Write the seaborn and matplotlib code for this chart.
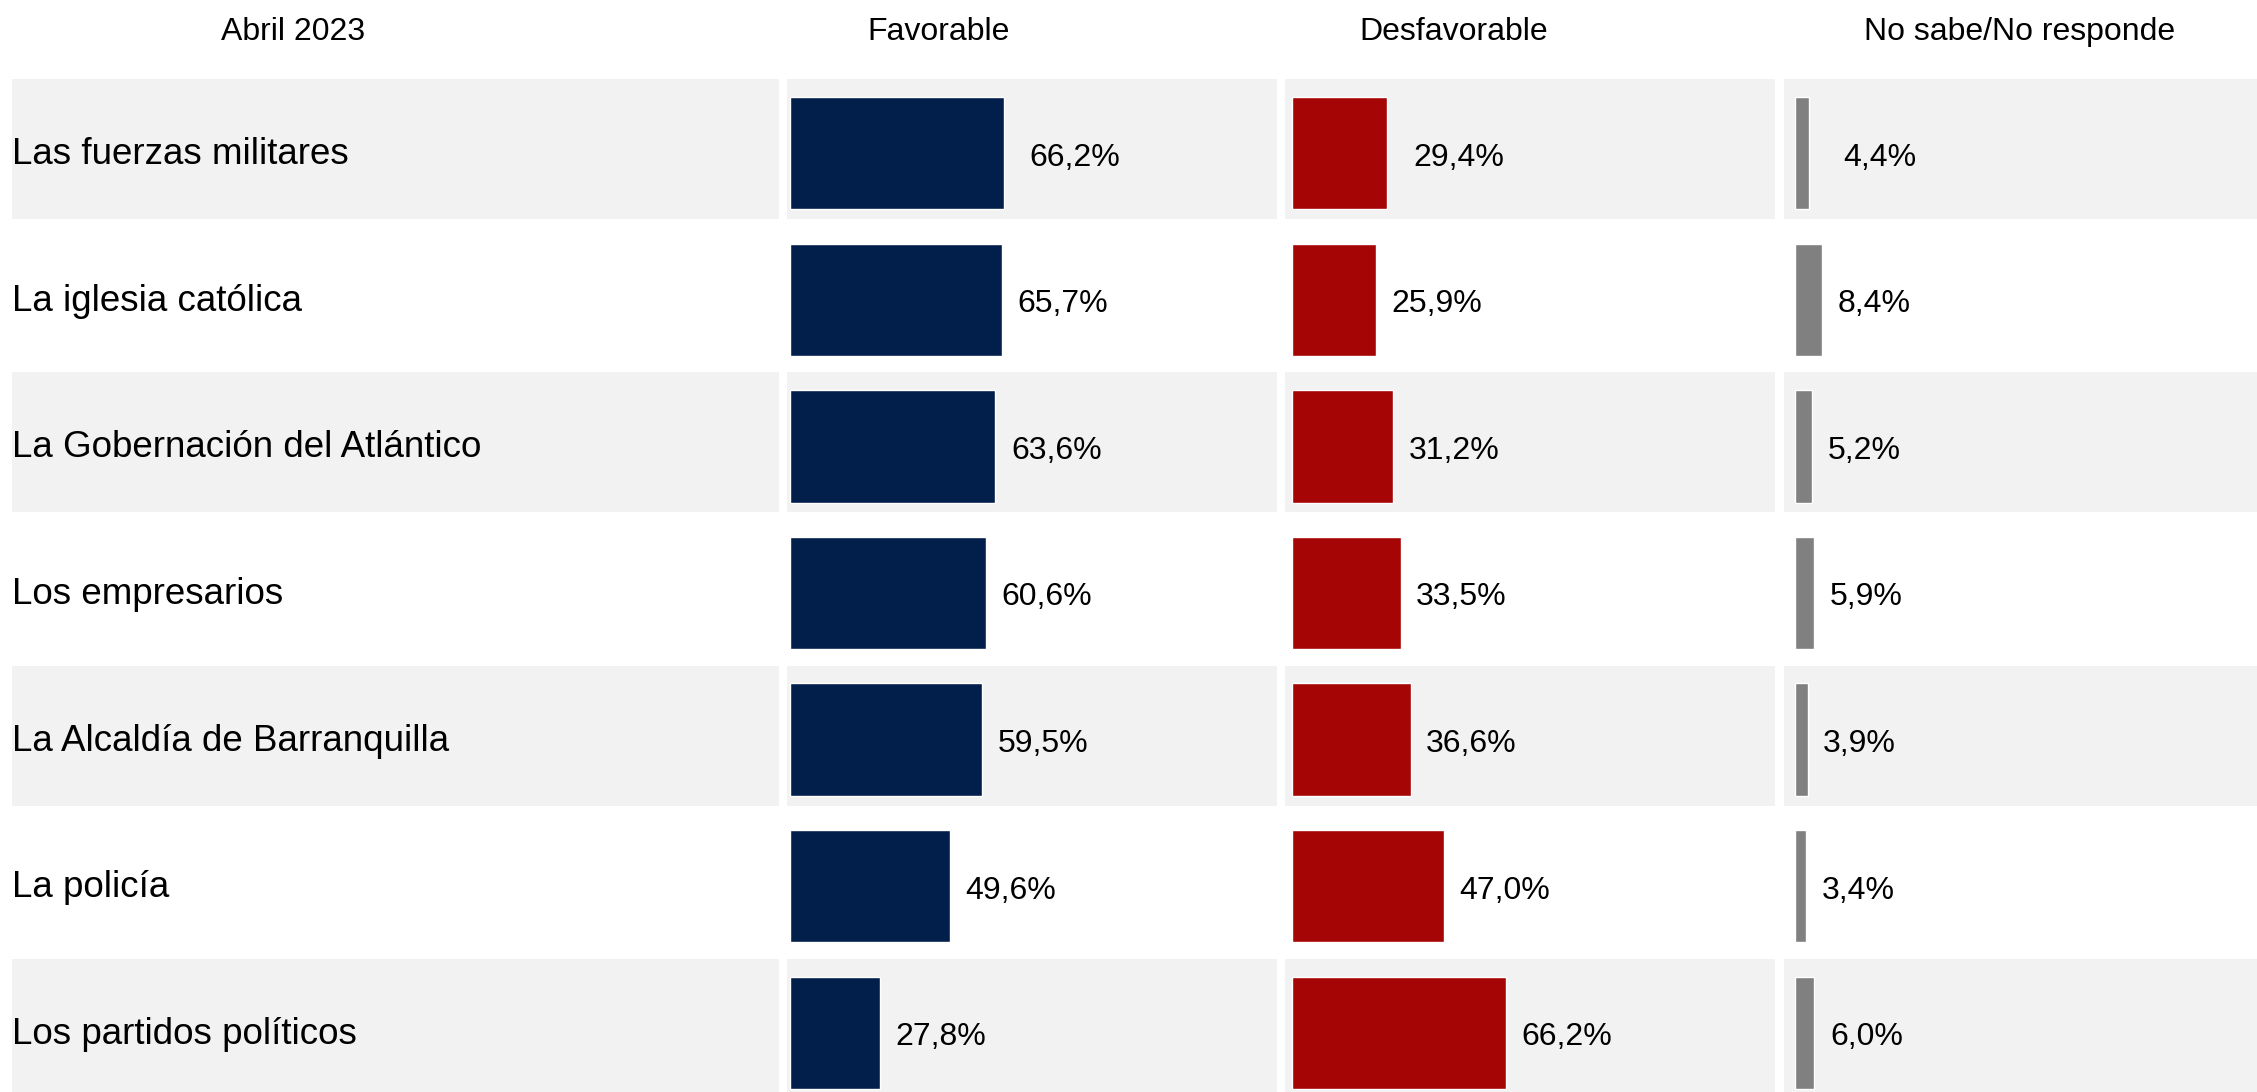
import matplotlib
matplotlib.use("Agg")
import matplotlib.pyplot as plt
import seaborn as sns
import pandas as pd

sns.set_style("white")
plt.rcParams["font.family"] = ["Liberation Sans", "DejaVu Sans"]
plt.rcParams["text.color"] = "black"

# data
period = "Abril 2023"
institutions = [
    "Las fuerzas militares",
    "La iglesia católica",
    "La Gobernación del Atlántico",
    "Los empresarios",
    "La Alcaldía de Barranquilla",
    "La policía",
    "Los partidos políticos",
]
favorable = [66.2, 65.7, 63.6, 60.6, 59.5, 49.6, 27.8]
desfavorable = [29.4, 25.9, 31.2, 33.5, 36.6, 47.0, 66.2]
ns_nr = [4.4, 8.4, 5.2, 5.9, 3.9, 3.4, 6.0]
headers = ["Favorable", "Desfavorable", "No sabe/No responde"]

df = pd.DataFrame({"institucion": institutions, "Favorable": favorable,
                   "Desfavorable": desfavorable, "No sabe/No responde": ns_nr})

W, H = 2257, 1092
PITCH = 146.6      # px per row
Y0 = 153.2         # px, center of first row
PX_PER_UNIT = 3.23
Y_TOP, Y_BOT = -0.55, 6.55
BG = "#F2F2F2"

fig = plt.figure(figsize=(W / 100, H / 100), dpi=100)


def add_panel(x0, x1):
    top = Y0 + Y_TOP * PITCH
    bot = Y0 + Y_BOT * PITCH
    ax = fig.add_axes([x0 / W, 1 - bot / H, (x1 - x0) / W, (bot - top) / H])
    return ax


def fmt(v):
    return f"{v:.1f}".replace(".", ",") + "%"


def shade_rows(ax):
    for i in range(0, len(institutions), 2):
        ax.axhspan(i - 0.505, i + 0.45, color=BG, zorder=0, lw=0)


# label column
ax_lab = add_panel(12, 779)
ax_lab.set_xlim(0, 1)
ax_lab.set_ylim(Y_BOT, Y_TOP)
shade_rows(ax_lab)
for i, name in enumerate(institutions):
    ax_lab.text(0.0, i + 0.075, name, fontsize=26.5, va="baseline", ha="left")
ax_lab.axis("off")

# bar panels: (column, panel start px, zero px, panel end px, color)
panels = [
    ("Favorable", 787, 790, 1277, "#021F4B"),
    ("Desfavorable", 1285, 1292.4, 1775, "#A50505"),
    ("No sabe/No responde", 1784, 1795, 2257, "#808080"),
]
first_pad = [8, 8, 10.5]
for k, (col, p0, z, p1, color) in enumerate(panels):
    ax = add_panel(p0, p1)
    shade_rows(ax)
    sns.barplot(data=df, x=col, y="institucion", orient="h", color=color,
                saturation=1, width=0.767, ax=ax, zorder=2)
    ax.set_xlim((p0 - z) / PX_PER_UNIT, (p1 - z) / PX_PER_UNIT)
    ax.set_ylim(Y_BOT, Y_TOP)
    for i, v in enumerate(df[col]):
        pad = first_pad[k] if i == 0 else 4.8
        ax.text(v + pad, i + 0.085, fmt(v), fontsize=23, va="baseline", ha="left")
    ax.axis("off")

# headers
fig.text(293 / W, 1 - 39.7 / H, period, fontsize=23, ha="center", va="baseline")
for name, cx in zip(headers, [939, 1453.5, 2020]):
    fig.text(cx / W, 1 - 39.7 / H, name, fontsize=23, ha="center", va="baseline")

fig.savefig("out.png", dpi=100, facecolor="white")
